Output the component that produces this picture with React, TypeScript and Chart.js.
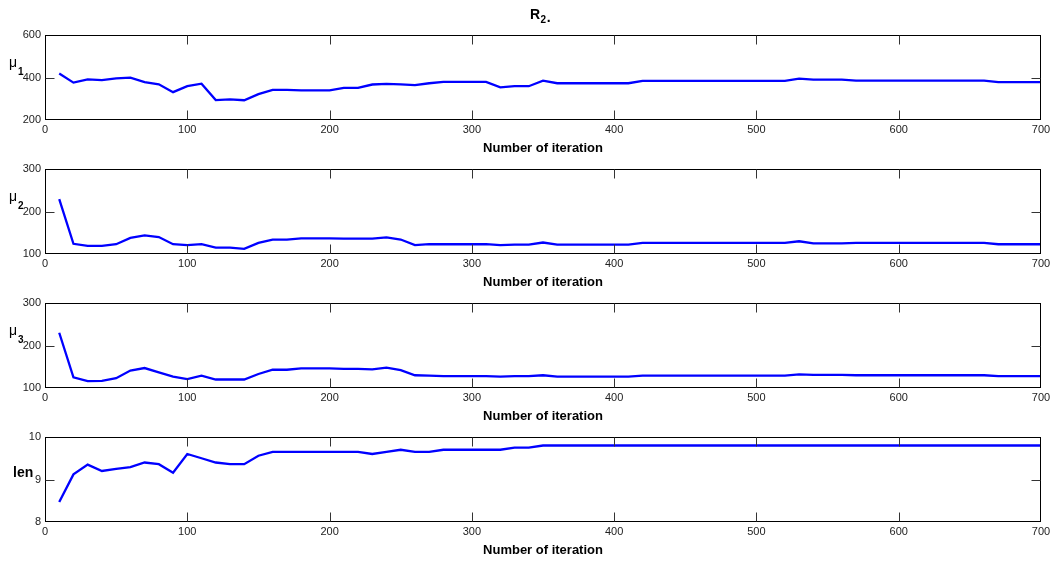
import { useEffect, useRef } from "react";
import { Chart, registerables } from "chart.js";

Chart.register(...registerables);

const iterations = [
  10, 20, 30, 40, 50, 60, 70, 80, 90, 100,
  110, 120, 130, 140, 150, 160, 170, 180, 190, 200,
  210, 220, 230, 240, 250, 260, 270, 280, 290, 300,
  310, 320, 330, 340, 350, 360, 370, 380, 390, 400,
  410, 420, 430, 440, 450, 460, 470, 480, 490, 500,
  510, 520, 530, 540, 550, 560, 570, 580, 590, 600,
  610, 620, 630, 640, 650, 660, 670, 680, 690, 700,
];

const mu1 = [
  419, 376, 391, 388, 396, 399, 378, 368, 331, 359,
  371, 294, 297, 293, 322, 342, 342, 339, 339, 339,
  351, 351, 367, 370, 368, 364, 373, 379, 379, 379,
  379, 354, 359, 359, 385, 373, 373, 373, 373, 373,
  373, 384, 384, 384, 384, 384, 384, 384, 384, 384,
  384, 384, 395, 390, 390, 390, 385, 385, 385, 385,
  385, 385, 385, 385, 385, 385, 378, 378, 378, 378,
];

const mu2 = [
  229, 124, 119, 119, 123, 138, 144, 140, 123, 121,
  123, 115, 115, 112, 126, 134, 134, 137, 137, 137,
  136, 136, 136, 139, 134, 121, 123, 123, 123, 123,
  123, 121, 122, 122, 127, 122, 122, 122, 122, 122,
  122, 126, 126, 126, 126, 126, 126, 126, 126, 126,
  126, 126, 130, 125, 125, 125, 126, 126, 126, 126,
  126, 126, 126, 126, 126, 126, 123, 123, 123, 123,
];

const mu3 = [
  230, 125, 116, 117, 123, 141, 147, 137, 127, 121,
  129, 120, 120, 120, 133, 143, 143, 146, 146, 146,
  145, 145, 144, 148, 142, 130, 129, 128, 128, 128,
  128, 127, 128, 128, 130, 127, 127, 127, 127, 127,
  127, 129, 129, 129, 129, 129, 129, 129, 129, 129,
  129, 129, 132, 131, 131, 131, 130, 130, 130, 130,
  130, 130, 130, 130, 130, 130, 128, 128, 128, 128,
];

const lenValues = [
  8.47, 9.12, 9.35, 9.2, 9.25, 9.29, 9.4, 9.36, 9.16, 9.6,
  9.5, 9.4, 9.36, 9.36, 9.56, 9.65, 9.65, 9.65, 9.65, 9.65,
  9.65, 9.65, 9.6, 9.65, 9.7, 9.65, 9.65, 9.7, 9.7, 9.7,
  9.7, 9.7, 9.75, 9.75, 9.8, 9.8, 9.8, 9.8, 9.8, 9.8,
  9.8, 9.8, 9.8, 9.8, 9.8, 9.8, 9.8, 9.8, 9.8, 9.8,
  9.8, 9.8, 9.8, 9.8, 9.8, 9.8, 9.8, 9.8, 9.8, 9.8,
  9.8, 9.8, 9.8, 9.8, 9.8, 9.8, 9.8, 9.8, 9.8, 9.8,
];

const xRange = [0, 700];
const xStep = 100;
const xTitle = "Number of iteration";
const chartTitle = "R";
const chartTitleSub = "2";
const chartTitleTail = ".";

const panels = [
  { values: mu1, yMin: 200, yMax: 600, yStep: 200, label: "\u03bc", sub: "1", bold: false },
  { values: mu2, yMin: 100, yMax: 300, yStep: 100, label: "\u03bc", sub: "2", bold: false },
  { values: mu3, yMin: 100, yMax: 300, yStep: 100, label: "\u03bc", sub: "3", bold: false },
  { values: lenValues, yMin: 8, yMax: 10, yStep: 1, label: "len", sub: "", bold: true },
];

const FONT = "'Liberation Sans', Arial, Helvetica, sans-serif";
const CANVAS_W = 1055;
const CANVAS_H = 165;
const PANEL_SPACING = 134;
const PAD_TOP = 35;
const PLOT_H = 85;
const Y_AXIS_W = 45;
const PAD_RIGHT = 14;
const TICK_LEN = 9;

function PanelChart({ index }: { index: number }) {
  const ref = useRef<HTMLCanvasElement | null>(null);
  const p = panels[index];

  useEffect(() => {
    if (!ref.current) return;

    const boxPlugin = {
      id: "boxTicks",
      afterDraw(chart: any) {
        const { ctx, chartArea } = chart;
        const { left, right, top, bottom } = chartArea;
        const xs = chart.scales.x;
        const ys = chart.scales.y;
        const L = Math.round(left) + 0.5;
        const R = Math.round(right) - 0.5;
        const T = Math.round(top) + 0.5;
        const B = Math.round(bottom) - 0.5;
        ctx.save();
        ctx.strokeStyle = "#000";
        ctx.lineWidth = 1;
        ctx.strokeRect(L, T, R - L, B - T);
        ctx.strokeStyle = "#333";
        ctx.beginPath();
        xs.ticks.forEach((t: any) => {
          if (t.value <= xs.min || t.value >= xs.max) return;
          const px = Math.round(xs.getPixelForValue(t.value)) + 0.5;
          ctx.moveTo(px, B);
          ctx.lineTo(px, B - TICK_LEN);
          ctx.moveTo(px, T);
          ctx.lineTo(px, T + TICK_LEN);
        });
        ys.ticks.forEach((t: any) => {
          if (t.value <= ys.min || t.value >= ys.max) return;
          const py = Math.round(ys.getPixelForValue(t.value)) + 0.5;
          ctx.moveTo(L, py);
          ctx.lineTo(L + TICK_LEN, py);
          ctx.moveTo(R, py);
          ctx.lineTo(R - TICK_LEN, py);
        });
        ctx.stroke();

        // y label
        ctx.fillStyle = "#000";
        ctx.textAlign = "left";
        ctx.textBaseline = "alphabetic";
        if (p.bold) {
          ctx.font = `bold 14px ${FONT}`;
          ctx.fillText(p.label, 13, top + 40);
        } else {
          ctx.font = `14px ${FONT}`;
          ctx.fillText(p.label, 9, top + 32);
          const w = ctx.measureText(p.label).width;
          ctx.font = `bold 10px ${FONT}`;
          ctx.fillText(p.sub, 9 + w + 1, top + 40);
        }

        // main title
        if (index === 0) {
          let x = 530;
          ctx.font = `bold 14px ${FONT}`;
          ctx.fillText(chartTitle, x, 18.5);
          x += ctx.measureText(chartTitle).width + 0.5;
          ctx.font = `bold 10px ${FONT}`;
          ctx.fillText(chartTitleSub, x, 23);
          x += ctx.measureText(chartTitleSub).width + 0.5;
          ctx.font = `bold 14px ${FONT}`;
          ctx.fillText(chartTitleTail, x, 22);
        }
        ctx.restore();
      },
    };

    const chart = new Chart(ref.current, {
      type: "line",
      data: {
        datasets: [
          {
            data: iterations.map((x, i) => ({ x, y: p.values[i] })),
            borderColor: "#0000ff",
            borderWidth: 2.3,
            pointRadius: 0,
            tension: 0,
            fill: false,
          },
        ],
      },
      options: {
        animation: false,
        responsive: false,
        devicePixelRatio: 1,
        events: [],
        layout: { padding: { top: PAD_TOP, right: PAD_RIGHT, left: 0, bottom: 0 } },
        plugins: { legend: { display: false }, tooltip: { enabled: false }, title: { display: false } },
        scales: {
          x: {
            type: "linear",
            min: xRange[0],
            max: xRange[1],
            grid: { display: false, drawTicks: false },
            border: { display: false },
            ticks: {
              stepSize: xStep,
              autoSkip: false,
              maxRotation: 0,
              padding: 3,
              color: "#222",
              font: { family: FONT, size: 11 },
            },
            title: {
              display: true,
              text: xTitle,
              color: "#000",
              font: { family: FONT, size: 13, weight: "bold" },
              padding: { top: 4, bottom: 9 },
            },
            afterFit: (s: any) => {
              s.height = CANVAS_H - PAD_TOP - PLOT_H;
            },
          },
          y: {
            min: p.yMin,
            max: p.yMax,
            grid: { display: false, drawTicks: false },
            border: { display: false },
            ticks: {
              stepSize: p.yStep,
              padding: 4,
              color: "#222",
              font: { family: FONT, size: 11 },
            },
            afterFit: (s: any) => {
              s.width = Y_AXIS_W;
            },
          },
        },
      },
      plugins: [boxPlugin],
    } as any);

    return () => chart.destroy();
  }, [index]);

  return (
    <canvas
      ref={ref}
      width={CANVAS_W}
      height={CANVAS_H}
      style={{ position: "absolute", left: 0, top: index * PANEL_SPACING, width: CANVAS_W, height: CANVAS_H }}
    />
  );
}

export default function App() {
  return (
    <div
      style={{
        position: "absolute",
        left: 0,
        top: 0,
        width: CANVAS_W,
        height: 561,
        overflow: "hidden",
        background: "#fff",
      }}
    >
      {panels.map((_, i) => (
        <PanelChart key={i} index={i} />
      ))}
    </div>
  );
}
